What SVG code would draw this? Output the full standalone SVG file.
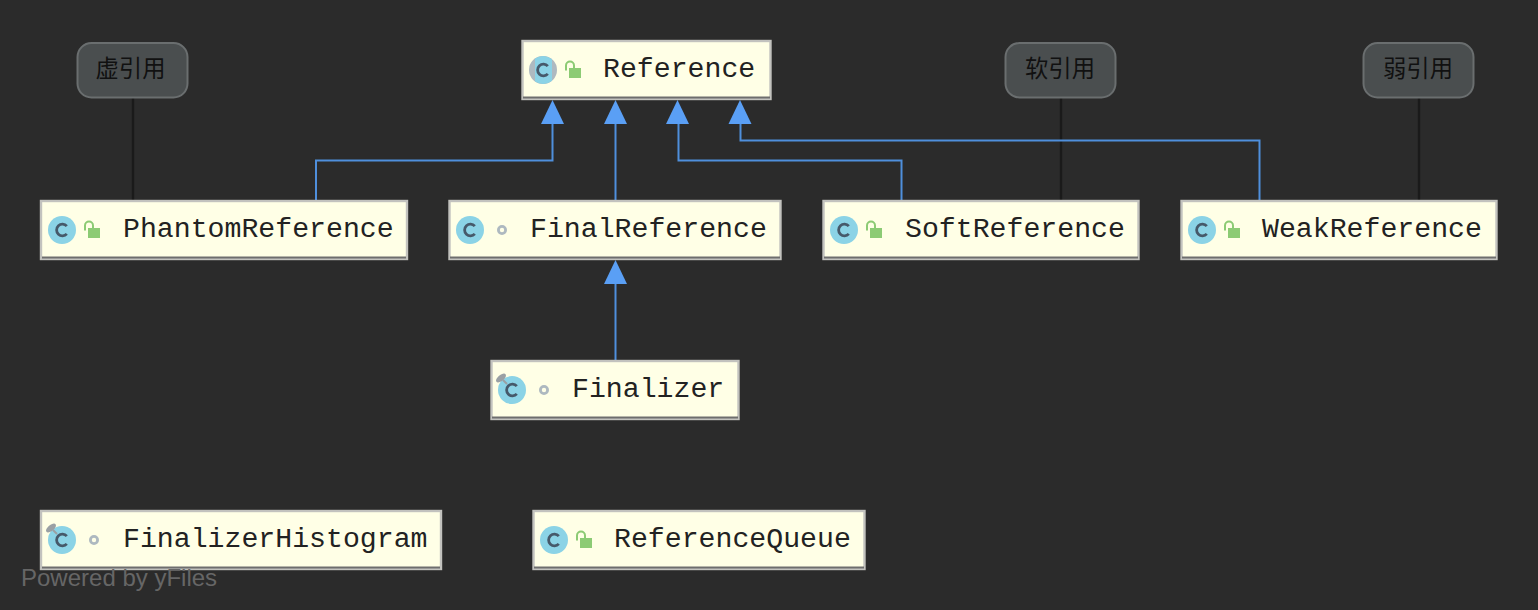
<svg xmlns="http://www.w3.org/2000/svg" width="1538" height="610" viewBox="0 0 1538 610">
<style>
.box{fill:#ffffe6;stroke:#c2c2be;stroke-width:2.4}
.shade{stroke:#6e6e6e;stroke-width:2;fill:none}
.t{font-family:"Liberation Mono",monospace;font-size:28.2px;fill:#222}
.note{fill:#4a4e4f;stroke:#6a6e6f;stroke-width:2}
.nt{font-family:"Noto Sans CJK SC","Noto Sans",sans-serif;font-size:23.3px;fill:#111;text-anchor:middle}
.c{fill:#8bd3e6}
.cl{fill:none;stroke:#46596a;stroke-width:2.8}
.lock{fill:#8ccb74}
.ls{fill:none;stroke:#8ccb74;stroke-width:2}
.dot{fill:none;stroke:#aeb9c0;stroke-width:2.8}
.pin{fill:#9aa0a4}
.edge{fill:none;stroke:#4f8fdc;stroke-width:2}
.dep{fill:none;stroke:#1a1a1a;stroke-width:2.4}
.wm{font-family:"Liberation Sans",sans-serif;font-size:24px;fill:#666}
</style>
<defs>
<g id="cicon"><circle class="c" cx="0" cy="0" r="14"/><path class="cl" d="M4.800 -3.800A5.800 5.800 0 1 0 4.800 3.800"/></g>
<g id="unlock"><rect class="lock" x="0" y="0" width="12" height="10"/><path class="ls" d="M-3 2.500V-2.500A4 4 0 0 1 5 -2.500V0"/></g>
<circle id="pkg" class="dot" r="3.600"/>
<g id="static"><ellipse class="pin" cx="-11" cy="-12" rx="6" ry="3" transform="rotate(-40 -11 -12)"/><path d="M-9 -10L-5 -6" stroke="#9aa0a4" stroke-width="2" fill="none"/></g>
</defs>
<rect width="1538" height="610" fill="#2b2b2b"/>
<g id="connectors">
<path class="dep" d="M133 98V201"/><path class="dep" d="M1061 98V201"/><path class="dep" d="M1419 98V201"/>
<path class="edge" d="M316 200V160.500H552.500V122"/>
<path class="edge" d="M615.500 200V122"/>
<path class="edge" d="M901.500 200V160.500H678.500V122"/>
<path class="edge" d="M1259.500 200V140.500H740.500V122"/>
<path class="edge" d="M615.500 360V282"/>
<g fill="#5a9ff5"><path d="M552.500 100L564 124H541Z"/><path d="M615.500 100L627 124H604Z"/><path d="M677.500 100L689 124H666Z"/><path d="M740 100L751.500 124H728.500Z"/><path d="M615.500 260L627 284H604Z"/></g>
</g>
<g id="note-phantom"><rect class="note" x="77.500" y="43" width="110" height="54.500" rx="14"/><text class="nt" x="130.500" y="77">虚引用</text></g>
<g id="note-soft"><rect class="note" x="1005.500" y="43" width="110" height="54.500" rx="14"/><text class="nt" x="1060" y="77">软引用</text></g>
<g id="note-weak"><rect class="note" x="1363.500" y="43" width="110" height="54.500" rx="14"/><text class="nt" x="1418" y="77">弱引用</text></g>
<g id="node-reference"><rect class="box" x="522.500" y="41" width="248" height="58"/><path class="shade" d="M523 97.500H770"/><circle cx="543" cy="70" r="14" fill="#aeb9c0"/><path class="c" d="M535 58.500A14 14 0 0 1 552 59.300V80.700A14 14 0 0 1 535 81.500Z"/><path class="cl" d="M547.800 66.200A5.800 5.800 0 1 0 547.800 73.800"/><use href="#unlock" x="569" y="68"/><text class="t" x="603" y="77">Reference</text></g>
<g id="node-phantom"><rect class="box" x="41" y="201" width="366" height="58"/><path class="shade" d="M42 257.500H406"/><use href="#cicon" x="62" y="230"/><use href="#unlock" x="88" y="228"/><text class="t" x="123" y="237">PhantomReference</text></g>
<g id="node-final"><rect class="box" x="449.500" y="201" width="331" height="58"/><path class="shade" d="M450 257.500H780"/><use href="#cicon" x="470" y="230"/><use href="#pkg" x="502" y="230"/><text class="t" x="530" y="237">FinalReference</text></g>
<g id="node-soft"><rect class="box" x="823.500" y="201" width="315" height="58"/><path class="shade" d="M824 257.500H1138"/><use href="#cicon" x="844" y="230"/><use href="#unlock" x="870" y="228"/><text class="t" x="905" y="237">SoftReference</text></g>
<g id="node-weak"><rect class="box" x="1181.500" y="201" width="315" height="58"/><path class="shade" d="M1182 257.500H1496"/><use href="#cicon" x="1202" y="230"/><use href="#unlock" x="1228" y="228"/><text class="t" x="1262" y="237">WeakReference</text></g>
<g id="node-finalizer"><rect class="box" x="491.500" y="361" width="247" height="58"/><path class="shade" d="M492 417.500H738"/><use href="#cicon" x="512" y="390"/><use href="#static" x="512" y="390"/><use href="#pkg" x="544" y="390"/><text class="t" x="572" y="397">Finalizer</text></g>
<g id="node-histogram"><rect class="box" x="41" y="511" width="400" height="58"/><path class="shade" d="M42 567.500H440"/><use href="#cicon" x="62" y="540"/><use href="#static" x="62" y="540"/><use href="#pkg" x="94" y="540"/><text class="t" x="123" y="547">FinalizerHistogram</text></g>
<g id="node-queue"><rect class="box" x="533.500" y="511" width="331" height="58"/><path class="shade" d="M534 567.500H864"/><use href="#cicon" x="554" y="540"/><use href="#unlock" x="580" y="538"/><text class="t" x="614" y="547">ReferenceQueue</text></g>
<text class="wm" x="21" y="586">Powered by yFiles</text>
</svg>
